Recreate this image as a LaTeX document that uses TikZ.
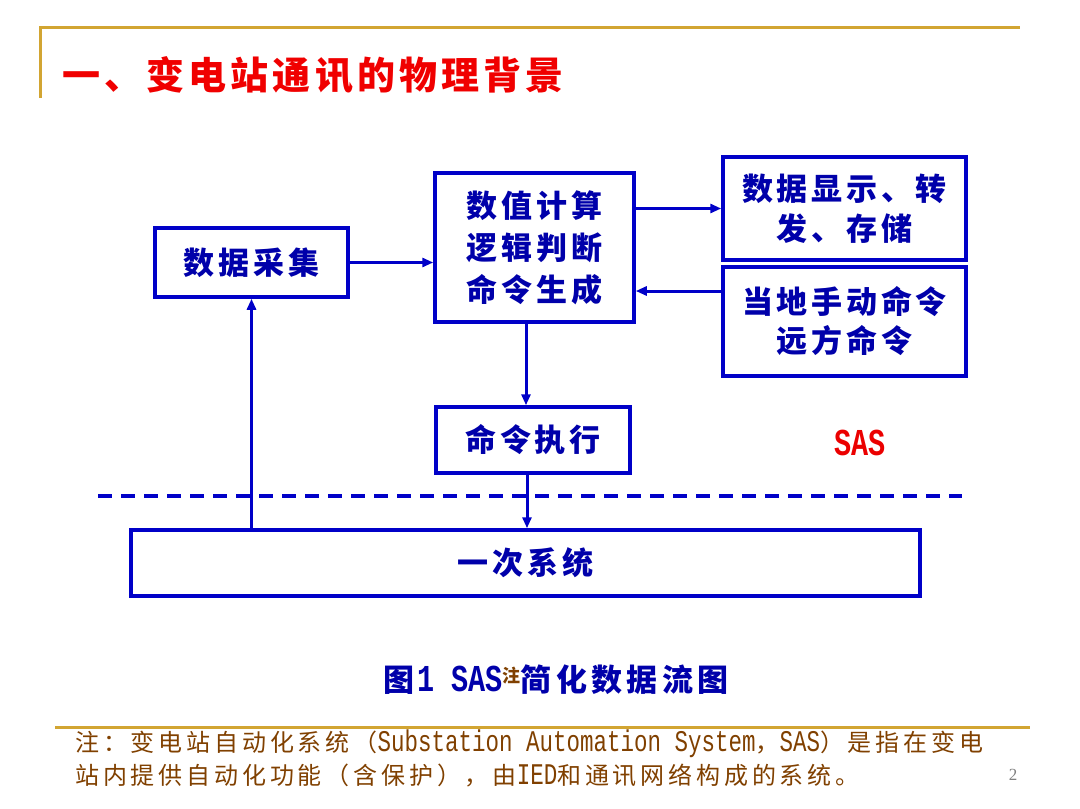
\documentclass[tikz,border=0pt]{standalone}
\usepackage{fontspec}
\setmainfont{Noto Sans CJK SC}
\newfontfamily\cjkbox[LetterSpace=12]{Noto Sans CJK SC}
\newfontfamily\cjktitle[LetterSpace=11]{Noto Sans CJK SC}
\newfontfamily\cjkcap[LetterSpace=14]{Noto Sans CJK SC}
\newfontfamily\cjknote[LetterSpace=16]{Noto Sans CJK SC}
\newfontfamily\latmono[FakeStretch=0.75]{Liberation Mono}
\newfontfamily\pagefont{Liberation Serif}
\usetikzlibrary{arrows.meta}
\definecolor{boxblue}{RGB}{0,0,200}
\definecolor{txtblue}{RGB}{0,0,170}
\definecolor{goldline}{RGB}{210,165,50}
\definecolor{notebrown}{RGB}{128,64,0}
\definecolor{titlered}{RGB}{240,0,0}
\definecolor{sasred}{RGB}{235,0,0}
\tikzset{
  blk/.style={draw=boxblue, line width=3.5pt, inner sep=0pt, align=center,
    text=txtblue, font=\cjkbox\bfseries\fontsize{31}{42}\selectfont},
  arr/.style={draw=boxblue, line width=3pt, -{Triangle[length=11pt,width=9pt]}},
  sep/.style={draw=boxblue, line width=4pt, dash pattern=on 14pt off 9pt},
  gold/.style={draw=goldline, line width=3pt},
  note/.style={anchor=west, inner sep=0pt, text=notebrown, font=\cjknote\fontsize{24}{30}\selectfont}
}
\begin{document}
\begin{tikzpicture}[x=1pt,y=-1pt]
\useasboundingbox (0,0) rectangle (1080,809);
% frame lines
\draw[gold] (40,98) -- (40,27) -- (1020,27);
\draw[gold] (55,727) -- (1030,727);
% title
\node[text=titlered, font=\cjktitle\bfseries\fontsize{38}{40}\selectfont] (title) at (313,75) {一、变电站通讯的物理背景};
% boxes
\node[blk, minimum width=193pt, minimum height=69pt] (acq) at (251.5,262.5) {数据采集};
\node[blk, minimum width=199pt, minimum height=149pt] (calc) at (534.5,247.5) {数值计算\\逻辑判断\\命令生成};
\node[blk, minimum width=243pt, minimum height=103pt, font=\cjkbox\bfseries\fontsize{31}{40}\selectfont] (disp) at (844.5,208.5) {数据显示、转\\发、存储};
\node[blk, minimum width=243pt, minimum height=109pt, font=\cjkbox\bfseries\fontsize{31}{39}\selectfont] (cmd) at (844.5,321.5) {当地手动命令\\远方命令};
\node[blk, minimum width=194pt, minimum height=66pt] (exec) at (533,440) {命令执行};
\node[blk, minimum width=789pt, minimum height=66pt] (prim) at (525.5,563) {一次系统};
% separator
\coordinate (sepL) at (98,496);
\coordinate (sepR) at (962,496);
\draw[sep] (sepL) -- (sepR);
% connectors
\draw[arr] (acq.east) -- (acq.east -| calc.west);
\draw[arr] (calc.east |- disp.west) -- (disp.west);
\draw[arr] ([yshift=30.5pt]cmd.west) -- ([yshift=30.5pt]cmd.west -| calc.east);
\draw[arr] ([xshift=-8.5pt]calc.south) -- ([xshift=-8.5pt]calc.south |- exec.north);
\draw[arr] ([xshift=-6pt]exec.south) -- ([xshift=-6pt]exec.south |- prim.north);
\draw[arr] (acq.south |- prim.north) -- (acq.south);
% SAS label
\node[text=sasred, font=\latmono\bfseries\fontsize{38}{40}\selectfont] (sas) at (860,443) {SAS};
% caption
\node[text=txtblue, font=\cjkcap\bfseries\fontsize{31}{36}\selectfont] (cap) at (556,680)
  {图\hspace{3pt}{\latmono\bfseries\fontsize{38}{38}\selectfont 1 SAS}\raisebox{9pt}{\fontsize{18}{18}\selectfont\textcolor{notebrown}{注}}简化数据流图};
% footnote
\node[note] (n1) at (75,744) {注：变电站自动化系统（{\latmono\fontsize{30}{30}\selectfont Substation Automation System}，{\latmono\fontsize{30}{30}\selectfont SAS}）是指在变电};
\node[note] (n2) at (75,776) {站内提供自动化功能（含保护），由{\latmono\fontsize{30}{30}\selectfont IED}和通讯网络构成的系统。};
\node[text=gray, font=\pagefont\fontsize{17}{17}\selectfont] (pg) at (1013,775) {2};
\end{tikzpicture}
\end{document}
